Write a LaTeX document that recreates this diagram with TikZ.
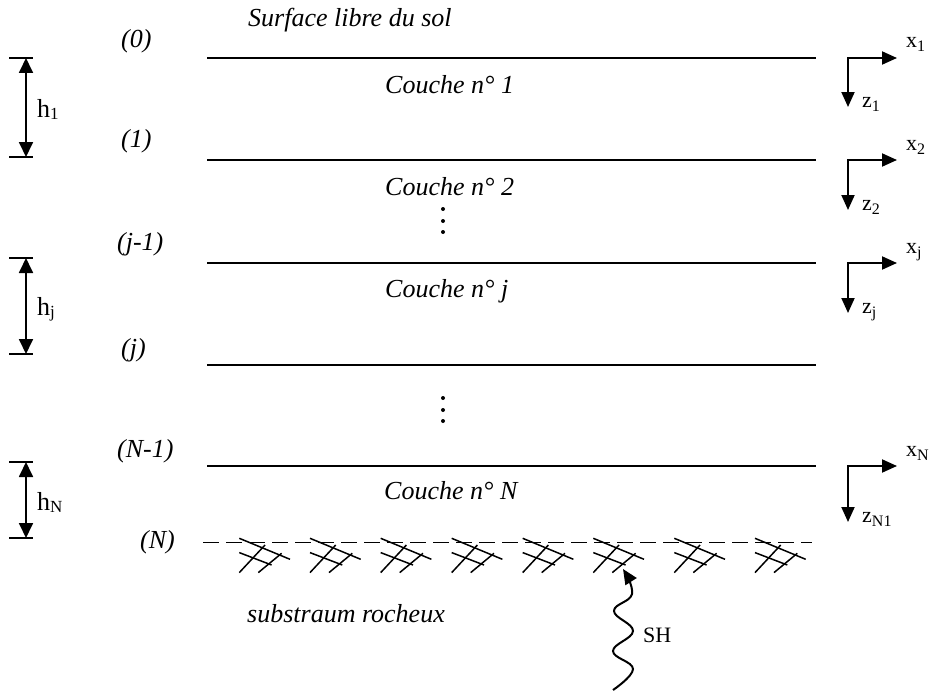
\documentclass[tikz,border=0pt]{standalone}
\usepackage{fontspec}
\setmainfont{Liberation Serif}
\usetikzlibrary{arrows.meta}
\newcommand{\lsub}[2][4pt]{\raisebox{-#1}{\fontsize{16}{16}\selectfont #2}}
\newcommand{\hsub}[1]{\raisebox{-2pt}{\fontsize{17}{17}\selectfont #1}}
\tikzset{
  layer/.style={line width=1.2pt},
  lbl/.style={font=\fontsize{26}{30}\selectfont\itshape, inner sep=0pt, anchor=base west},
  hlbl/.style={font=\fontsize{26}{30}\selectfont, inner sep=0pt, anchor=base west},
  axlbl/.style={font=\fontsize{22}{26}\selectfont, inner sep=0pt, anchor=base west},
  harrow/.style={line width=1.8pt, {Triangle[length=15pt,width=14pt]}-{Triangle[length=15pt,width=14pt]}},
  hbar/.style={line width=1.3pt},
  axarrow/.style={line width=2pt, {Triangle[length=15pt,width=13pt]}-{Triangle[length=15pt,width=13pt]}},
  hatch/.style={line width=1.5pt},
  hatchgrp/.pic={
    \draw[hatch] (0,0) -- (50.7,21);
    \draw[hatch] (0,14.3) -- (32.3,26.7);
    \draw[hatch] (0,34.3) -- (25.7,6.7);
    \draw[hatch] (19,34.3) -- (42.3,15);
  }
}
\begin{document}
\begin{tikzpicture}[x=1pt,y=-1pt]
\useasboundingbox (0,0) rectangle (934,693);
% layer lines
\foreach \y/\n in {58/0,160/1,263/2,365/3,466/4}{
  \coordinate (La\n) at (207,\y);
  \coordinate (Lb\n) at (816,\y);
  \draw[layer] (La\n) -- (Lb\n);
}
\coordinate (Da) at (203,542.7);
\coordinate (Db) at (812,542.7);
\draw[layer, dash pattern=on 16pt off 7pt] (Da) -- (Db);
% hatches
\foreach \x in {239.3,310,380.7,451.7,522.7,593.3,674.3,755}{
  \pic at (\x,538.3) {hatchgrp};
}
% level labels
\node[lbl] (n0) at (121,48) {(0)};
\node[lbl] (n1) at (121,147) {(1)};
\node[lbl] (nj1) at (117,250) {(j-1)};
\node[lbl] (nj) at (121,356) {(j)};
\node[lbl] (nN1) at (117,457) {(N-1)};
\node[lbl] (nN) at (140,548) {(N)};
% texts
\node[lbl] (surf) at (248,27) {Surface libre du sol};
\node[lbl] (c1) at (385,93) {Couche n° 1};
\node[lbl] (c2) at (385,195) {Couche n° 2};
\node[lbl] (cj) at (385,297) {Couche n° j};
\node[lbl] (cN) at (384,499) {Couche n° N};
\node[lbl] (sub) at (247,622) {substraum rocheux};
% dots
\foreach \y in {209,221,232,398,410,421}{
  \fill (443,\y) circle (2pt);
}
% thickness arrows
\foreach \t/\b/\ly/\s/\n in {58/157/117/1/a,258/354/315/j/b,462/538/510/N/c}{
  \coordinate (ht\n) at (26,\t);
  \coordinate (hb\n) at (26,\b);
  \draw[hbar] (9,\t) -- (33,\t);
  \draw[hbar] (9,\b) -- (33,\b);
  \draw[harrow] (ht\n) -- (hb\n);
  \node[hlbl] (hl\n) at (37,\ly) {h\hsub{\s}};
}
% axes
\foreach \y/\xl/\zl/\zd/\n in {58/1/1/49/a,160/2/2/50/b,263/j/j/50/c,466/N/N1/56/d}{
  \coordinate (ac\n) at (848,\y);
  \coordinate (ax\n) at (897,\y);
  \coordinate (az\n) at (848,\y+\zd);
  \draw[axarrow] (ax\n) -- (ac\n) -- (az\n);
  \node[axlbl] (xl\n) at (906,\y-10) {x\lsub{\xl}};
  \node[axlbl] (zl\n) at (862,\y+\zd) {z\lsub{\zl}};
}
% SH wave
\coordinate (wtip) at (623,569);
\draw[line width=2pt, -{Triangle[length=15pt,width=13pt]}]
  plot[smooth, tension=0.7] coordinates {(613,690) (633,669) (613,651) (633,631) (614,611) (632,594) (wtip)};
\node[axlbl] (sh) at (643,642) {SH};
\end{tikzpicture}
\end{document}
